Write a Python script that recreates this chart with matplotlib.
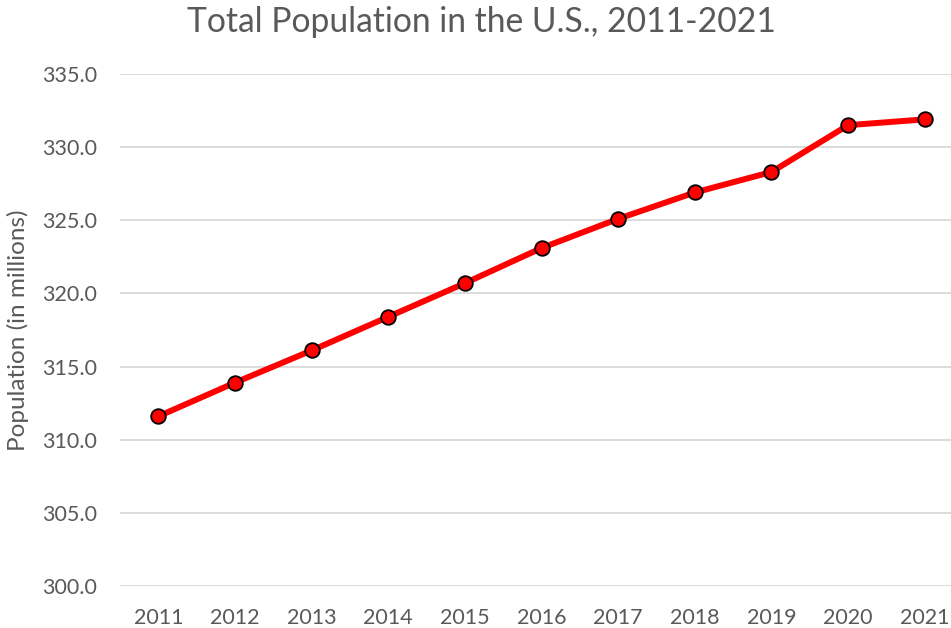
import matplotlib
matplotlib.use("Agg")
import matplotlib.pyplot as plt
from matplotlib.ticker import FormatStrFormatter

years = ["2011", "2012", "2013", "2014", "2015", "2016", "2017", "2018", "2019", "2020", "2021"]
population = [311.6, 313.9, 316.1, 318.4, 320.7, 323.1, 325.1, 326.9, 328.3, 331.5, 331.9]

plt.rcParams['font.family'] = ['Lato', 'DejaVu Sans']
gray = '#595959'

fig = plt.figure(figsize=(9.51, 6.28), dpi=100)
ax = fig.add_axes([120/951, 1-586/628, (963-120)/951, (586-74)/628])

x = list(range(len(years)))
ax.plot(x, population, color='#ff0000', linewidth=4.3, marker='o', markersize=10.5,
        markerfacecolor='#ff0000', markeredgecolor='black', markeredgewidth=1.3, zorder=3,
        solid_capstyle='round')

ax.set_xlim(-0.5, len(years) - 0.5)
ax.set_ylim(300, 335)
ax.set_yticks([300, 305, 310, 315, 320, 325, 330, 335])
ax.yaxis.set_major_formatter(FormatStrFormatter('%.1f'))
ax.set_xticks(x)
ax.set_xticklabels(years)
ax.grid(axis='y', color='#d9d9d9', linewidth=1.3)
ax.set_axisbelow(True)
for s in ax.spines.values():
    s.set_visible(False)
ax.tick_params(length=0, colors=gray, labelsize=15.5, pad=16)
ax.tick_params(axis='y', pad=16.5)
ax.yaxis.set_label_coords(-(120 - 18) / (963 - 120), 0.5)
ax.set_ylabel('Population (in millions)', color=gray, fontsize=17.5, va='center')
fig.text(481/951, 1-22/628, 'Total Population in the U.S., 2011-2021', color=gray,
         fontsize=24.2, ha='center', va='center')

fig.savefig('out.png', dpi=100)
